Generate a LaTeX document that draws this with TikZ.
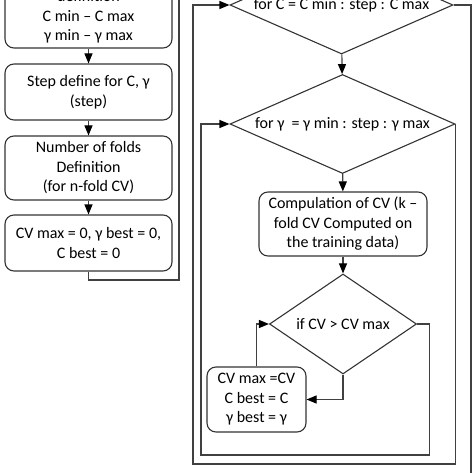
\documentclass[tikz,border=0pt]{standalone}
\usepackage{fontspec}
\setmainfont{Carlito}
\usepackage{tikz}
\usetikzlibrary{shapes.geometric,arrows.meta}
\tikzset{
  flowbox/.style={draw=black!80,rounded corners=9pt,align=center,inner sep=0pt},
  testbox/.style={draw=black!80,diamond,inner sep=0pt,shape aspect=2.3},
  flow/.style={draw=black!75,-{Triangle[width=8pt,length=10pt,fill=black,color=black]}},
  link/.style={draw=black!75}
}

\begin{document}
\begin{tikzpicture}[x=1pt,y=-1pt,line width=1.1pt,font=\fontsize{16}{19.5}\selectfont]
\useasboundingbox (0,0) rectangle (473,473);
\clip (0,0) rectangle (473,473);

\node[flowbox,minimum width=167pt,minimum height=62pt] (range) at (88.5,17) {definition\\C min -- C max\\γ min -- γ max};
\node[flowbox,minimum width=167pt,minimum height=56pt] (stepdef) at (88.5,92) {Step define for C, γ\\(step)};
\node[flowbox,minimum width=167pt,minimum height=64pt] (folds) at (88.5,168) {Number of folds\\Definition\\(for n-fold CV)};
\node[flowbox,minimum width=167pt,minimum height=56pt] (init) at (88.5,243) {CV max = 0, γ best = 0,\\C best = 0};

\node[testbox,minimum width=223pt,minimum height=98pt] (forC) at (341.5,5) {for C = C min : step : C max};
\node[testbox,minimum width=225pt,minimum height=99pt] (forG) at (342.5,124) {for γ \ = γ min : step : γ max};
\node[flowbox,minimum width=168pt,minimum height=64pt] (cvcomp) at (343,224) {Compulation of CV (k --\\fold CV Computed on\\the training data)};
\node[testbox,minimum width=147pt,minimum height=100pt] (ifcv) at (343,324) {if CV > CV max};
\node[flowbox,minimum width=99pt,minimum height=65pt] (best) at (256.5,399.5) {CV max =CV\\C best = C\\γ best = γ};

\coordinate (leftturn) at (179,280);
\coordinate (lefttop) at (179,-30);
\coordinate (outerbl) at (193,464);
\coordinate (innerbl) at (201,455);
\coordinate (exitend) at (471,490);

\draw[flow] (range) -- (stepdef);
\draw[flow] (stepdef) -- (folds);
\draw[flow] (folds) -- (init);
\draw[link] (init.south) -- (init.south |- leftturn) -- (leftturn) -- (lefttop);

\draw[flow] (forC) -- (forG);
\draw[flow] (forG) -- (cvcomp);
\draw[flow] (cvcomp) -- (ifcv);
\draw[flow] (ifcv.south) |- (best.east);
\draw[flow] (best.north) |- (ifcv.west);

\draw[flow] (ifcv.east) -- ++(12,0) |- (innerbl) |- (forG.west);
\draw[flow] (forG.east) |- (outerbl) |- (forC.west);
\draw[link] (forC.east) -| (exitend);
\end{tikzpicture}
\end{document}
